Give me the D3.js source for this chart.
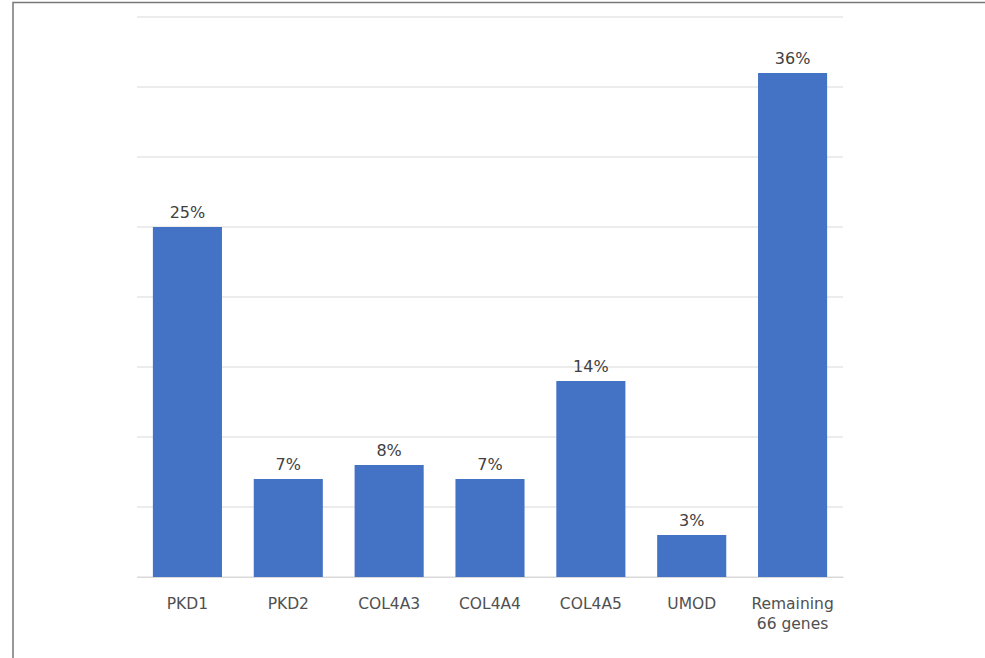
<!DOCTYPE html>
<html lang="en">
<head>
  <meta charset="UTF-8">
  <title>Gene share</title>
  <script src="https://cdn.jsdelivr.net/npm/d3@7"></script>
  <style>
    body { margin: 0; background: #fff; }
    text { font-family: "DejaVu Sans", sans-serif; fill: #505050; }
  </style>
</head>
<body>
  <svg width="985" height="658"></svg>
  <script>
    var genes = ["PKD1", "PKD2", "COL4A3", "COL4A4", "COL4A5", "UMOD", "Remaining 66 genes"]
    var percents = [25, 7, 8, 7, 14, 3, 36]
    var yTicks = [0, 5, 10, 15, 20, 25, 30, 35, 40]

    var svg = d3.select("svg")

    // frame round the figure
    svg.append("path")
      .attr("d", "M13,658 V2.5 H985")
      .attr("fill", "none")
      .attr("stroke", "#777")
      .attr("stroke-width", 1.5)

    var x = d3.scaleBand()
      .domain(genes)
      .range([137, 843])
      .paddingInner(0.315)
      .paddingOuter(0.1575)

    var y = d3.scaleLinear()
      .domain([0, 40])
      .range([577, 17])

    svg.append("g")
      .selectAll("line")
      .data(yTicks)
      .enter()
      .append("line")
      .attr("x1", 137)
      .attr("x2", 843)
      .attr("y1", d => y(d))
      .attr("y2", d => y(d))
      .attr("stroke", "#d9d9d9")
      .attr("stroke-width", 1)

    svg.selectAll(".bar")
      .data(percents)
      .enter()
      .append("rect")
      .attr("class", "bar")
      .attr("x", (d, i) => x(genes[i]))
      .attr("y", d => y(d))
      .attr("width", x.bandwidth())
      .attr("height", d => y(0) - y(d))
      .attr("fill", "#4472c4")

    svg.selectAll(".val")
      .data(percents)
      .enter()
      .append("text")
      .attr("class", "val")
      .attr("x", (d, i) => x(genes[i]) + x.bandwidth() / 2)
      .attr("y", d => y(d) - 9)
      .attr("text-anchor", "middle")
      .attr("font-size", 16)
      .style("fill", "#404040")
      .text(d => d + "%")

    var xAxis = svg.append("g")
      .attr("transform", "translate(0,577)")
      .call(d3.axisBottom(x).tickSize(0).tickPadding(0))
    xAxis.select(".domain").attr("stroke", "#d9d9d9")
    xAxis.selectAll(".tick text").remove()

    xAxis.selectAll(".tick")
      .append("text")
      .attr("text-anchor", "middle")
      .attr("font-size", 15.5)
      .each(function (d) {
        var lines = d == "Remaining 66 genes" ? ["Remaining", "66 genes"] : [d]
        var t = d3.select(this)
        lines.forEach((l, k) => {
          t.append("tspan").attr("x", 0).attr("y", 32 + k * 20).text(l)
        })
      })
  </script>
</body>
</html>
